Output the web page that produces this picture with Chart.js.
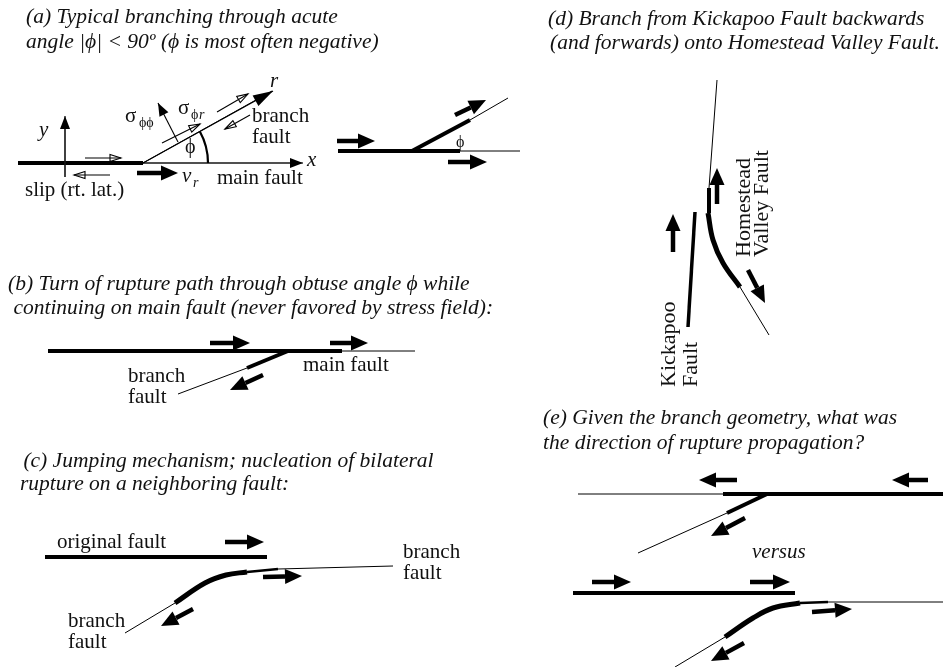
<!DOCTYPE html>
<html>
<head>
<meta charset="utf-8">
<script src="https://cdn.jsdelivr.net/npm/chart.js@4"></script>
<style>
html, body { margin: 0; padding: 0; background: #fff; }
#wrap { width: 943px; height: 667px; }
</style>
</head>
<body>
<div id="wrap"><canvas id="myChart"></canvas></div>
<script>
// Fault sketch, figure units: x to the right, y downward (0..943, 0..667)

// thick (slipping) fault traces
var thickFaults = [
  [[18, 163], [143, 163]],   // (a) main fault
  [[338, 151], [460, 151]],  // (a) small sketch
  [[412, 151], [470, 120]],
  [[48, 351], [342, 351]],   // (b)
  [[288, 351], [247, 368]],
  [[45, 557], [267, 557]],   // (c) original fault
  [[709, 188], [709, 213]],  // (d)
  [[723, 494], [943, 494]],  // (e) top
  [[767, 494], [727, 513]],
  [[573, 593], [795, 593]]   // (e) bottom
];

// thin (not slipping) traces
var thinFaults = [
  [[143, 163], [272, 91]],   // (a) branch, r direction
  [[460, 151], [520, 151]],
  [[470, 120], [508, 98]],
  [[342, 351], [415, 351]],
  [[247, 368], [178, 394]],
  [[125, 633], [175, 603]],
  [[278, 569], [393, 566]],
  [[717, 80], [709, 188]],
  [[740, 287], [769, 335]],
  [[578, 494], [723, 494]],
  [[727, 513], [638, 553]],
  [[675, 667], [725, 637]],
  [[828, 602], [943, 602]]
];

// curved branch traces
var bentFaults = [
  [[175, 603], [205, 583], [226, 575], [247, 572]],
  [[708, 213], [713, 240], [723, 263], [740, 287]],
  [[725, 637], [753, 618], [773, 608], [800, 603]]
];
var midFaults = [
  [[247, 572], [278, 569]],
  [[800, 603], [828, 602]]
];
var kickapoo = [[695, 212], [688, 327]];
var axisLines = [
  [[143, 163], [300, 163]],
  [[65, 177], [65, 119]]
];

// slip arrows [x1, y1, x2, y2]
var slipArrows = [
  [137, 173, 178, 173],
  [337, 141, 375, 141], [448, 162, 487, 162], [455, 115, 486, 100],
  [210, 343, 250, 343], [330, 343, 368, 343], [263, 375, 230, 390],
  [225, 542, 264, 542], [263, 577, 302, 576], [193, 609, 161, 626],
  [673, 252, 673, 214], [717, 204, 717, 168], [748, 270, 765, 303],
  [737, 480, 699, 480], [928, 480, 892, 480], [745, 518, 711, 536],
  [592, 582, 631, 582], [750, 582, 790, 582], [812, 612, 852, 609], [744, 643, 711, 661]
];
// thin traction arrows with open heads
var tractionArrows = [
  [85, 158, 121, 158], [110, 175, 74, 175],
  [162, 143, 200, 124], [217, 112, 248, 94], [250, 115, 225, 129]
];
// thin arrows with solid heads
var pointerArrows = [
  [143, 163, 303, 163], [65, 177, 65, 116],
  [178, 142, 158, 103], [143, 163, 273, 91]
];
var phiArc = [143, 163, 65, 0, 29];

var titles = [
  ["(a) Typical branching through acute", 26, 23],
  ["angle |\u03d5| < 90\u00ba (\u03d5 is most often negative)", 26, 48],
  ["(b) Turn of rupture path through obtuse angle \u03d5 while", 8, 290],
  [" continuing on main fault (never favored by stress field):", 8, 314],
  [" (c) Jumping mechanism; nucleation of bilateral", 18, 467],
  ["rupture on a neighboring fault:", 20, 490],
  ["(d) Branch from Kickapoo Fault backwards", 548, 25],
  ["(and forwards) onto Homestead Valley Fault.", 550, 49],
  ["(e) Given the branch geometry, what was", 543, 424],
  ["the direction of rupture propagation?", 543, 449]
];
var labels = [
  ["branch", 252, 122], ["fault", 252, 143], ["main fault", 217, 184],
  ["slip (rt. lat.)", 25, 196],
  ["main fault", 303, 371], ["branch", 128, 382], ["fault", 128, 403],
  ["original fault", 57, 548], ["branch", 403, 558], ["fault", 403, 579],
  ["branch", 68, 627], ["fault", 68, 648]
];
var sideLabels = [
  ["Homestead", 750, 257], ["Valley Fault", 768, 257],
  ["Kickapoo", 675, 387], ["Fault", 697, 387]
];

function lineSet(pts, width, tension, color) {
  return {
    data: pts.map(function (p) { return { x: p[0], y: p[1] }; }),
    showLine: true,
    borderColor: color || "#000",
    borderWidth: width,
    tension: tension || 0,
    pointRadius: 0,
    borderCapStyle: "butt"
  };
}

var datasets = []
  .concat(axisLines.map(function (p) { return lineSet(p, 1.2, 0, "#444"); }))
  .concat(thickFaults.map(function (p) { return lineSet(p, 4); }))
  .concat(thinFaults.map(function (p) { return lineSet(p, 1); }))
  .concat(bentFaults.map(function (p) { return lineSet(p, 5, 0.4); }))
  .concat(midFaults.map(function (p) { return lineSet(p, 2.5); }))
  .concat([lineSet(kickapoo, 3.5)]);

function head(ctx, x1, y1, x2, y2, len, half, fill) {
  var a = Math.atan2(y2 - y1, x2 - x1);
  var bx = x2 - len * Math.cos(a), by = y2 - len * Math.sin(a);
  var nx = -Math.sin(a) * half, ny = Math.cos(a) * half;
  ctx.beginPath();
  ctx.moveTo(x2, y2);
  ctx.lineTo(bx + nx, by + ny);
  ctx.lineTo(bx - nx, by - ny);
  ctx.closePath();
  if (fill) ctx.fill(); else ctx.stroke();
  return [bx, by];
}

var sketch = {
  id: "sketch",
  afterDatasetsDraw: function (chart) {
    var ctx = chart.ctx, sx = chart.scales.x, sy = chart.scales.y;
    function P(x, y) { return [sx.getPixelForValue(x), sy.getPixelForValue(y)]; }
    ctx.save();
    ctx.fillStyle = "#000";
    ctx.strokeStyle = "#000";

    // bold slip arrows
    slipArrows.forEach(function (a) {
      var p = P(a[0], a[1]), q = P(a[2], a[3]);
      var b = head(ctx, p[0], p[1], q[0], q[1], 17, 7.5, true);
      ctx.lineWidth = 4.5;
      ctx.beginPath(); ctx.moveTo(p[0], p[1]); ctx.lineTo(b[0], b[1]); ctx.stroke();
    });
    // traction arrows
    ctx.lineWidth = 1.1;
    tractionArrows.forEach(function (a) {
      var p = P(a[0], a[1]), q = P(a[2], a[3]);
      ctx.beginPath(); ctx.moveTo(p[0], p[1]); ctx.lineTo(q[0], q[1]); ctx.stroke();
      head(ctx, p[0], p[1], q[0], q[1], 11, 3.5, false);
    });
    // axes, r and sigma arrows
    pointerArrows.forEach(function (a, i) {
      var p = P(a[0], a[1]), q = P(a[2], a[3]);
      ctx.lineWidth = 1.1;
      ctx.beginPath(); ctx.moveTo(p[0], p[1]); ctx.lineTo(q[0], q[1]); ctx.stroke();
      if (i === 3) head(ctx, p[0], p[1], q[0], q[1], 20, 6, true);
      else head(ctx, p[0], p[1], q[0], q[1], 13, 5, true);
    });
    // phi arc
    var c = P(phiArc[0], phiArc[1]);
    var r = sx.getPixelForValue(phiArc[0] + phiArc[2]) - c[0];
    ctx.lineWidth = 2.2;
    ctx.beginPath();
    ctx.arc(c[0], c[1], r, -phiArc[4] * Math.PI / 180, -phiArc[3] * Math.PI / 180);
    ctx.stroke();

    // text
    ctx.fillStyle = "#111";
    ctx.textBaseline = "alphabetic";
    ctx.textAlign = "left";
    ctx.font = "italic 21.5px 'Liberation Serif', 'DejaVu Serif', serif";
    titles.forEach(function (t) { var p = P(t[1], t[2]); ctx.fillText(t[0], p[0], p[1]); });
    ctx.font = "21px 'Liberation Serif', serif";
    labels.forEach(function (t) { var p = P(t[1], t[2]); ctx.fillText(t[0], p[0], p[1]); });
    ctx.font = "22px 'Liberation Serif', serif";
    sideLabels.forEach(function (t) {
      var p = P(t[1], t[2]);
      ctx.save(); ctx.translate(p[0], p[1]); ctx.rotate(-Math.PI / 2);
      ctx.fillText(t[0], 0, 0); ctx.restore();
    });

    function put(txt, x, y, font) {
      var p = P(x, y); ctx.font = font; ctx.fillText(txt, p[0], p[1]);
    }
    var it = "italic 21px 'Liberation Serif', serif";
    put("y", 39, 136, it);
    put("x", 307, 166, it);
    put("r", 270, 87, it);
    put("v", 182, 182, it);
    put("r", 193, 187, "italic 14px 'Liberation Serif', serif");
    put("\u03c3", 125, 122, "21px 'Liberation Serif', serif");
    put("\u03d5\u03d5", 139, 127, "14px 'Liberation Serif', serif");
    put("\u03c3", 178, 114, "21px 'Liberation Serif', serif");
    put("\u03d5", 191, 119, "14px 'Liberation Serif', serif");
    put("r", 199, 119, "italic 14px 'Liberation Serif', serif");
    put("\u03d5", 185, 153, "20px 'Liberation Serif', serif");
    put("\u03d5", 456, 147, "16px 'Liberation Serif', serif");
    put("versus", 752, 558, "italic 21px 'Liberation Serif', serif");
    ctx.restore();
  }
};

var ctx = document.getElementById("myChart").getContext("2d");
var myChart = new Chart(ctx, {
  type: "scatter",
  data: { datasets: datasets },
  options: {
    responsive: true,
    maintainAspectRatio: false,
    animation: false,
    layout: { padding: 0 },
    plugins: { legend: { display: false }, tooltip: { enabled: false } },
    scales: {
      x: { type: "linear", min: 0, max: 943, display: false },
      y: { type: "linear", min: 0, max: 667, reverse: true, display: false }
    }
  },
  plugins: [sketch]
});
</script>
</body>
</html>
